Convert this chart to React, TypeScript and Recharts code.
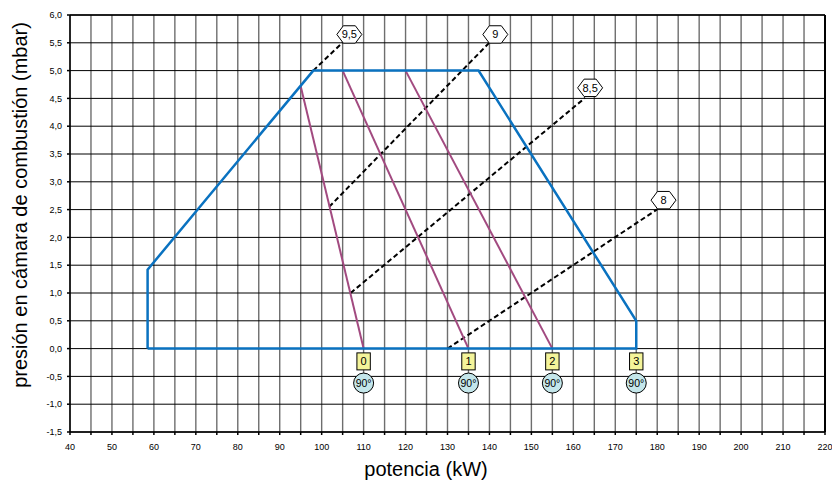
import { ComposedChart, Line, Scatter, XAxis, YAxis, CartesianGrid, Label, ReferenceLine } from "recharts"

const FONT = '"Liberation Sans", Arial, sans-serif'

// envolvente de trabajo (kW, mbar)
const envelope = [
  { x: 58.5, y: 0 },
  { x: 58.5, y: 1.42 },
  { x: 98, y: 5.0 },
  { x: 137.4, y: 5.0 },
  { x: 175, y: 0.5 },
  { x: 175, y: 0 },
  { x: 58.5, y: 0 },
]

// posiciones de registro (líneas moradas)
const reg0 = [{ x: 95.0, y: 4.72 }, { x: 110, y: 0 }]
const reg1 = [{ x: 105, y: 5.0 }, { x: 135, y: 0 }]
const reg2 = [{ x: 120, y: 5.0 }, { x: 155, y: 0 }]

// líneas de CO2 (discontinuas)
const co2_95 = [{ x: 98, y: 5.0 }, { x: 105.2, y: 5.52 }]
const co2_9 = [{ x: 101.8, y: 2.55 }, { x: 140.2, y: 5.52 }]
const co2_85 = [{ x: 106.9, y: 1.0 }, { x: 162.8, y: 4.51 }]
const co2_8 = [{ x: 130, y: 0 }, { x: 179.9, y: 2.5 }]

const co2Labels = [
  { x: 106.6, y: 5.65, text: "9,5" },
  { x: 141.4, y: 5.65, text: "9" },
  { x: 164.0, y: 4.69, text: "8,5" },
  { x: 181.5, y: 2.67, text: "8" },
]

const regBoxes = [
  { x: 110, y: -0.23, text: "0" },
  { x: 135, y: -0.23, text: "1" },
  { x: 155, y: -0.23, text: "2" },
  { x: 175, y: -0.23, text: "3" },
]

const angleMarks = [
  { x: 110, y: -0.62, text: "90°" },
  { x: 135, y: -0.62, text: "90°" },
  { x: 155, y: -0.62, text: "90°" },
  { x: 175, y: -0.62, text: "90°" },
]

const xTicks: number[] = []
for (let v = 40; v <= 220; v += 5) xTicks.push(v)
const yTicks: number[] = []
for (let v = -1.5; v <= 6.0001; v += 0.5) yTicks.push(Math.round(v * 10) / 10)

const Hexagon = (props: any) => {
  const { cx, cy, payload } = props
  const w = 12.5
  const h = 8.7
  const s = 6
  const pts = [
    [cx - w, cy], [cx - s, cy - h], [cx + s, cy - h],
    [cx + w, cy], [cx + s, cy + h], [cx - s, cy + h],
  ].map((p) => p.join(",")).join(" ")
  return (
    <g>
      <polygon points={pts} fill="#fff" stroke="#000" strokeWidth={1} />
      <text x={cx} y={cy + 4} textAnchor="middle" fontSize={11} fontFamily={FONT} fill="#000">
        {payload.text}
      </text>
    </g>
  )
}

const Box = (props: any) => {
  const { cx, cy, payload } = props
  return (
    <g>
      <rect x={cx - 6.7} y={cy - 8.5} width={13.4} height={17} fill="#f4f49a" stroke="#000" strokeWidth={1} />
      <text x={cx} y={cy + 4} textAnchor="middle" fontSize={11} fontFamily={FONT} fill="#000">
        {payload.text}
      </text>
    </g>
  )
}

const Circle = (props: any) => {
  const { cx, cy, payload } = props
  return (
    <g>
      <circle cx={cx} cy={cy} r={10} fill="#c4e6ea" stroke="#000" strokeWidth={1} />
      <text x={cx} y={cy + 4} textAnchor="middle" fontSize={10.5} fontFamily={FONT} fill="#000">
        {payload.text}
      </text>
    </g>
  )
}

const BLUE = "#0a72c0"
const PURPLE = "#a24a80"

export default function App() {
  return (
    <div style={{ position: "absolute", left: 0, top: 0, width: 832, height: 483, background: "#fff" }}>
      <ComposedChart width={832} height={483} margin={{ top: 15, right: 7, left: 0, bottom: 0 }}>
        <CartesianGrid horizontal={false} stroke="#6e6e6e" strokeWidth={1.4} />
        <CartesianGrid vertical={false} stroke="#000" strokeWidth={1} />
        <XAxis
          type="number"
          dataKey="x"
          domain={[40, 220]}
          ticks={xTicks}
          interval={0}
          allowDataOverflow
          tickFormatter={(v: number) => (v % 10 === 0 ? String(v) : "")}
          tick={{ fontSize: 9, fill: "#000", fontFamily: FONT }}
          tickSize={3}
          tickMargin={9}
          stroke="#000"
          strokeWidth={1.5}
          height={51}
        >
          <Label
            content={() => (
              <text x={426} y={476} textAnchor="middle" fontSize={20} fontFamily={FONT} fill="#000">
                potencia (kW)
              </text>
            )}
          />
        </XAxis>
        <YAxis
          type="number"
          domain={[-1.5, 6]}
          ticks={yTicks}
          interval={0}
          allowDataOverflow
          tickFormatter={(v: number) => v.toFixed(1).replace(".", ",")}
          tick={{ fontSize: 9, fill: "#000", fontFamily: FONT }}
          tickSize={3}
          tickMargin={5}
          stroke="#000"
          strokeWidth={1.5}
          width={70}
        >
          <Label
            content={() => (
              <text
                x={27}
                y={205}
                transform="rotate(-90 27 205)"
                textAnchor="middle"
                fontSize={20}
                fontFamily={FONT}
                fill="#000"
              >
                presión en cámara de combustión (mbar)
              </text>
            )}
          />
        </YAxis>
        <ReferenceLine x={220} stroke="#000" strokeWidth={2} />
        <ReferenceLine y={6} stroke="#000" strokeWidth={1.5} />

        <Line data={co2_95} dataKey="y" stroke="#000" strokeWidth={2} strokeDasharray="5 3" dot={false} isAnimationActive={false} />
        <Line data={co2_9} dataKey="y" stroke="#000" strokeWidth={2} strokeDasharray="5 3" dot={false} isAnimationActive={false} />
        <Line data={co2_85} dataKey="y" stroke="#000" strokeWidth={2} strokeDasharray="5 3" dot={false} isAnimationActive={false} />
        <Line data={co2_8} dataKey="y" stroke="#000" strokeWidth={2} strokeDasharray="5 3" dot={false} isAnimationActive={false} />

        <Line data={reg0} dataKey="y" stroke={PURPLE} strokeWidth={2} dot={false} isAnimationActive={false} />
        <Line data={reg1} dataKey="y" stroke={PURPLE} strokeWidth={2} dot={false} isAnimationActive={false} />
        <Line data={reg2} dataKey="y" stroke={PURPLE} strokeWidth={2} dot={false} isAnimationActive={false} />

        <Line data={envelope} dataKey="y" stroke={BLUE} strokeWidth={2.5} dot={false} isAnimationActive={false} />

        <Scatter data={co2Labels} dataKey="y" shape={Hexagon} isAnimationActive={false} />
        <Scatter data={regBoxes} dataKey="y" shape={Box} isAnimationActive={false} />
        <Scatter data={angleMarks} dataKey="y" shape={Circle} isAnimationActive={false} />
      </ComposedChart>
    </div>
  )
}
